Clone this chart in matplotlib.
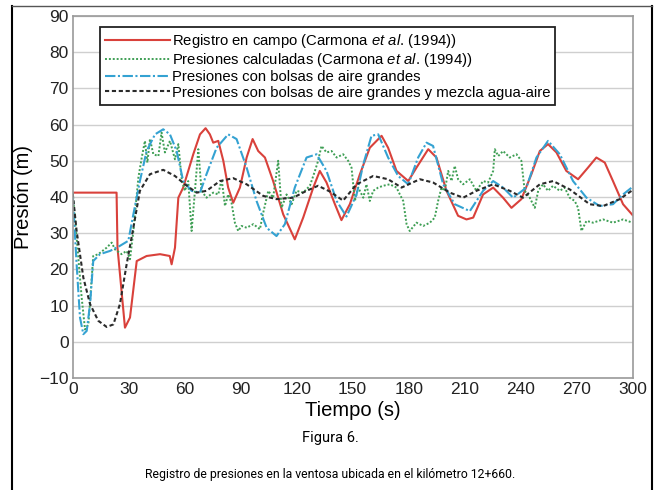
import numpy as np
import matplotlib
matplotlib.use("Agg")
import matplotlib.pyplot as plt
from matplotlib.lines import Line2D

plt.rcParams['font.family'] = ['Liberation Sans', 'DejaVu Sans']
plt.rcParams['mathtext.fontset'] = 'custom'
plt.rcParams['mathtext.rm'] = 'Liberation Sans'
plt.rcParams['mathtext.it'] = 'Liberation Sans:italic'

# Registro en campo (Carmona et al. 1994)
t_campo = [0, 23.5, 24, 28, 30.7, 34.3, 39.6, 46.8, 52, 53, 54.8, 56.6, 59.2, 64.6,
           68.2, 71.2, 73.5, 75.3, 78, 80.7, 83.3, 86, 89.6, 93.2, 96.4, 99.4, 103,
           107.4, 112.8, 119, 123.5, 128.9, 132.4, 136, 140.5, 144, 148.5, 153.9,
           159.2, 165.5, 169, 173.5, 179.8, 184.2, 190.5, 194.9, 200.3, 206.5, 211,
           214.6, 219.9, 225.3, 230.6, 235.1, 240.4, 245.8, 250.3, 254.7, 259.2,
           264.5, 270.8, 276.1, 280.6, 285.1, 289.5, 294.9, 300]
p_campo = [41.2, 41.2, 26, 3.9, 6.7, 22.3, 23.7, 24.2, 23.7, 21.4, 26, 39.8, 42.6, 51.8,
           57.3, 59, 57.3, 55, 55.5, 50, 42.6, 38.4, 42.6, 50.9, 56, 52.7, 50.9,
           44.4, 35.2, 28.3, 34.3, 42.6, 47.2, 44, 38, 33.6, 38, 46.3,
           53.6, 56.9, 53.6, 47.2, 44.4, 48.1, 53.2, 50.9, 41.7, 34.8, 33.8,
           34.3, 40.7, 42.6, 39.8, 37, 39.4, 46.3, 52.7, 54.6, 52.3,
           47.2, 44.9, 48.1, 50.9, 49.5, 44.4, 38, 35]

# Presiones calculadas (Carmona et al. 1994)
t_calc = [0, 2.1, 4.8, 6.6, 8.4, 10.2, 11, 13.7, 18.2, 20.9, 22.7, 26.2, 28.9, 30.7,
          32.5, 35.2, 37, 38.7, 40, 41.4, 43.2, 45.9, 47.6, 49.4, 52.1, 54.8, 56.6,
          58.4, 60.1, 61.9, 63.7, 65.5, 67.3, 69, 71.7, 75.3, 78, 79.8, 81.6, 83.3,
          85.1, 86.9, 88.7, 90.5, 93.2, 96.8, 100.3, 102.1, 104.8, 107.4, 110.1,
          111.9, 114.6, 117.3, 119.9, 123.5, 127.1, 129.8, 131.5, 133.3, 136, 138.7,
          141.4, 144.9, 147.6, 149.4, 151.2, 153, 155.7, 157.4, 159.2, 161, 163.7,
          166.4, 169.9, 173.5, 175.3, 177.1, 178.9, 180.6, 184.2, 187.8, 191.4, 194,
          195.8, 197.6, 199.4, 201.2, 203, 204.7, 206.5, 209.2, 212.8, 216.3, 219.9,
          222.6, 225.3, 226.2, 228, 230.6, 234.2, 237.8, 240.4, 242.2, 244.9, 247.6,
          249.4, 252, 254.7, 257.4, 261, 263.6, 266.3, 269, 270.8, 272.6, 275.3,
          278.8, 284.2, 289.5, 294.9, 300]
p_calc = [41, 28.8, 12.2, 3.4, 4.8, 17.7, 23.7, 24.2, 26, 27.4, 25.5, 24.2, 25.1, 22.8,
          30.6, 45.4, 50.9, 55.5, 49.5, 56, 51.8, 51.3, 57.8, 52.3, 55.5, 50.4, 54.6,
          44.9, 41.7, 44.4, 30.6, 41.7, 53.2, 41.7, 39.8, 41.2, 40.7, 44.9, 37.5, 40.7,
          38.4, 32.9, 30.6, 32, 31.5, 32.5, 31.1, 35.7, 41.7, 39.8, 50,
          37, 40.7, 38, 41.7, 41.2, 43.1, 47.2, 50, 54.1, 52.3, 52.7,
          50.9, 51.8, 50, 48.1, 38.9, 42.6, 39.8, 43.5, 38.9, 41.7, 42.6,
          43.1, 43.5, 42.6, 40.7, 38.9, 32.5, 30.6, 32.9, 32, 32.9, 34.3,
          38.9, 42.6, 41.7, 47.2, 44.4, 48.6, 44.9, 43.5, 44.9, 41.7, 44.4,
          44, 47.2, 53.2, 51.3, 52.7, 50.9, 51.8, 50, 41.7, 39.8, 37,
          41.7, 43.5, 41.7, 43.1, 41.7, 42.6, 39.8, 38.9, 37, 30.6, 33.4,
          32.9, 33.8, 32.9, 33.8, 32.9]

# Presiones con bolsas de aire grandes
t_bolsas = [0, 2.1, 3.9, 5.7, 7.5, 9.3, 11, 14.6, 20, 25.3, 29.8, 32.5, 36, 39.6, 44.1,
            48.5, 52.1, 55.7, 59.2, 63.7, 68.2, 71.7, 77.1, 83.3, 87.8, 93.2, 98.5,
            103.9, 109.2, 113.7, 119, 125.3, 130.7, 136, 141.4, 146.7, 152.1, 155.7,
            160.1, 163.7, 169, 174.4, 179.8, 185.1, 189.6, 193.1, 198.5, 204.7, 212.8,
            219.9, 225.3, 230.6, 236, 243.1, 248.5, 254.7, 261, 268.1, 275.3, 282.4,
            289.5, 294.9, 300]
p_bolsas = [40.7, 21.4, 6.7, 2.1, 3, 10.4, 22.3, 24.2, 25.1, 26.5, 27.9, 35.2, 44.4, 52.7, 57.3,
            58.7, 57.3, 52.7, 44.4, 41.7, 41.2, 46.3, 53.6, 57.3, 56, 48.1, 38.9,
            31.5, 29.2, 32.5, 42.6, 50.9, 51.8, 47.2, 38.9, 34.6, 40.7, 49,
            56.9, 57.3, 50.9, 45.8, 43.5, 50.9, 55, 54.1, 43.5, 38, 36.1,
            41.7, 44.4, 42.6, 39.8, 42.6, 50.9, 55.5, 51.8, 44.4, 39.8, 37.5,
            38, 40.7, 42.8]

# Presiones con bolsas de aire grandes y mezcla agua-aire
t_mezcla = [0, 2.1, 5.7, 9.3, 13.7, 18.2, 21.8, 25.3, 28.9, 32.5, 36, 41.4, 48.5, 54.8,
            60.1, 66.4, 71.7, 78.9, 86, 93.2, 102.1, 109.2, 118.1, 125.3, 131.5, 137.8,
            144.9, 152.1, 161, 169, 176.2, 186, 193.1, 202.1, 209.2, 216.3, 225.3,
            234.2, 241.3, 250.3, 257.4, 266.3, 277, 284.2, 293.1, 300]
p_mezcla = [41, 30.6, 17.7, 10.4, 5.8, 4.1, 4.8, 10.4, 21.4, 31.5, 41.7, 46.3, 47.5, 45.8,
            43.5, 41.2, 41.7, 44.4, 45.2, 43.5, 40.3, 39.4, 39.8, 41.7, 43.1, 41.5,
            39, 43.5, 45.8, 44.9, 42.6, 44.9, 44, 41.2, 39.8, 41.7, 43.5,
            41.7, 39.8, 43.5, 44.4, 42.1, 38, 37.5, 39.4, 41.9]

labels = ["Registro en campo (Carmona $et$ $al$. (1994))",
          "Presiones calculadas (Carmona $et$ $al$. (1994))",
          "Presiones con bolsas de aire grandes",
          "Presiones con bolsas de aire grandes y mezcla agua-aire"]

fig = plt.figure(figsize=(6.61, 4.90), dpi=100)
ax = fig.add_axes([0.110, 0.2286, 0.847, 0.7388])

ax.plot(t_campo, p_campo, color='#d9413b', lw=1.5, label=labels[0])
ax.plot(t_calc, p_calc, color='#3f9f55', lw=1.4, ls=(0, (1, 1)), label=labels[1])
ax.plot(t_bolsas, p_bolsas, color='#34a2d2', lw=1.5, ls=(0, (5, 1.2, 1, 1.2)), label=labels[2])
ax.plot(t_mezcla, p_mezcla, color='#2a2a2a', lw=1.5, ls=(0, (2, 1.3)), label=labels[3])

ax.set_xlim(0, 300)
ax.set_ylim(-10, 90)
ax.set_xticks(np.arange(0, 301, 30))
ax.set_yticks(np.arange(-10, 91, 10))
ax.yaxis.grid(True, color='#cfcfcf', lw=1.0)
ax.set_axisbelow(True)
for s in ax.spines.values():
    s.set_color('#9a9a9a')
    s.set_linewidth(1.2)
ax.tick_params(length=0, labelsize=12.5, pad=3, colors='#222222')
ax.set_xlabel("Tiempo (s)", fontsize=14.5, labelpad=3)
ax.set_ylabel("Presión (m)", fontsize=14.5, labelpad=4)

leg = ax.legend(loc='upper left', bbox_to_anchor=(0.048, 0.97), borderaxespad=0,
                fontsize=10.7, fancybox=False, framealpha=1, edgecolor='#222222',
                handlelength=4.4, handletextpad=0.1, labelspacing=0.08,
                borderpad=0.35)
leg.get_frame().set_linewidth(1.3)

# marco de la figura
fig.add_artist(Line2D([12 / 661, 12 / 661], [0, 1 - 6 / 490], color='black', lw=1.5))
fig.add_artist(Line2D([652 / 661, 652 / 661], [0, 1 - 6 / 490], color='black', lw=1.5))
fig.add_artist(Line2D([12 / 661, 652 / 661], [1 - 6 / 490, 1 - 6 / 490], color='#555555', lw=1))

fig.text(0.5, 1 - 438 / 490, "Figura 6.", ha='center', va='center',
         fontsize=10.5, family=['Roboto', 'DejaVu Sans'])
fig.text(0.5, 1 - 474 / 490,
         "Registro de presiones en la ventosa ubicada en el kilómetro 12+660.",
         ha='center', va='center', fontsize=8.8, family=['Roboto', 'DejaVu Sans'])

fig.savefig("out.png", dpi=100)
